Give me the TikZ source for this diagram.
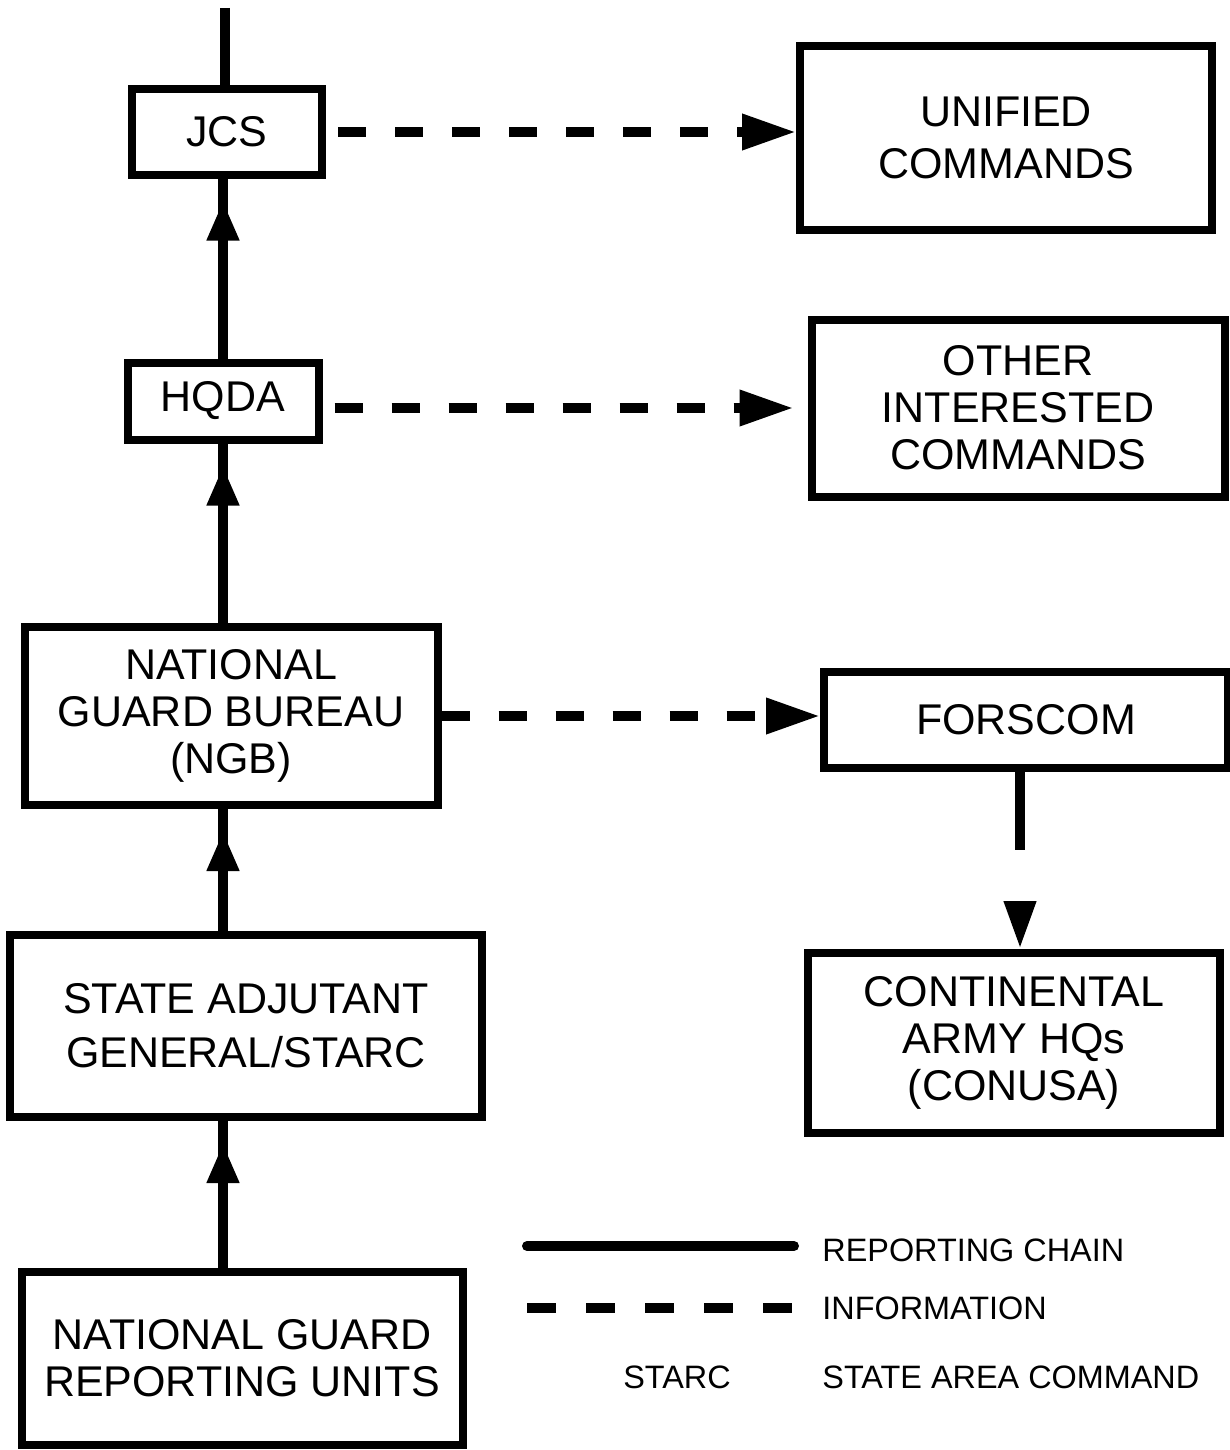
\documentclass[tikz,border=0pt]{standalone}
\usepackage{fontspec}
\setmainfont{Liberation Sans}
\usetikzlibrary{arrows.meta,decorations.markings}

\tikzset{
    box/.style={draw, line width=4pt, align=center, inner sep=0pt,
        font=\fontsize{21.5}{23.5}\selectfont},
    chain/.style={line width=5pt, postaction={decorate},
        decoration={markings, mark=at position -11pt with {\arrow{Triangle[length=20pt,width=15pt]}}}},
    info/.style={line width=5pt, dash pattern=on 14pt off 14.5pt,
        -{Triangle[length=27pt,width=17pt]}},
    legendtext/.style={anchor=west, inner sep=0pt, font=\fontsize{16.2}{18}\selectfont}
}

\begin{document}
\begin{tikzpicture}[x=0.5pt,y=-0.5pt]
    \useasboundingbox (0,0) rectangle (1230,1450);

    % reporting chain
    \node[box, minimum width=95pt, minimum height=42.5pt] (jcs) at (227,132) {JCS};
    \node[box, minimum width=95.5pt, minimum height=38.5pt] (hqda) at (223,401) {HQDA};
    \node[box, minimum width=206.5pt, minimum height=89pt] (ngb) at (231,716) {NATIONAL\\GUARD BUREAU\\(NGB)};
    \node[box, minimum width=236pt, minimum height=91pt, font=\fontsize{21.5}{27}\selectfont] (state) at (246,1026) {STATE ADJUTANT\\GENERAL/STARC};
    \node[box, minimum width=220.5pt, minimum height=86.5pt] (ngru) at (242,1358) {NATIONAL GUARD\\REPORTING UNITS};

    % informed commands
    \node[box, minimum width=206pt, minimum height=91.5pt, font=\fontsize{21.5}{26}\selectfont] (unified) at (1006,138) {UNIFIED\\COMMANDS};
    \node[box, minimum width=206.5pt, minimum height=88.5pt] (other) at (1018,408) {OTHER\\INTERESTED\\COMMANDS};
    \node[box, minimum width=202pt, minimum height=48pt] (forscom) at (1026,720) {FORSCOM};
    \node[box, minimum width=206pt, minimum height=90pt] (conusa) at (1014,1043) {CONTINENTAL\\ARMY HQs\\(CONUSA)};

    % solid lines
    \coordinate (top) at (225,8);
    \draw[line width=5pt] (top) -- (top |- jcs.north);
    \draw[chain] (hqda.north) -- (hqda.north |- jcs.south);
    \draw[chain] (ngb.north -| hqda) -- (hqda.south);
    \draw[chain] (state.north -| hqda) -- (hqda |- ngb.south);
    \draw[chain] (ngru.north -| hqda) -- (hqda |- state.south);

    % dashed lines
    \draw[info, shorten <=6pt] (jcs.east) -- (jcs.east -| unified.west);
    \draw[info, shorten <=6pt, shorten >=7pt] (other.west -| hqda.east) -- (other.west);
    \draw[info] (ngb.east) -- (ngb.east -| forscom.west);

    % forscom to conusa
    \coordinate (gaptop) at (1020,850);
    \coordinate (gapbot) at (1020,904);
    \draw[line width=5pt] (gaptop |- forscom.south) -- (gaptop);
    \draw[line width=5pt, -{Triangle[length=24pt,width=15pt]}] (gapbot) -- (gapbot |- conusa.north);

    % legend
    \node[legendtext] (lgchain) at (822,1250) {REPORTING CHAIN};
    \node[legendtext] (lginfo) at (822,1308) {INFORMATION};
    \node[legendtext] (lgstarc) at (822,1377) {STATE AREA COMMAND};
    \node[legendtext, anchor=center] (lgabbr) at (677,1377) {STARC};
    \coordinate (chainstart) at (527,1246);
    \coordinate (infostart) at (527,1308);
    \draw[line width=5pt, line cap=round, shorten >=14pt] (chainstart) -- (chainstart -| lgchain.west);
    \draw[line width=5pt, dash pattern=on 14.5pt off 15pt, shorten >=15pt] (infostart) -- (infostart -| lginfo.west);
\end{tikzpicture}
\end{document}
